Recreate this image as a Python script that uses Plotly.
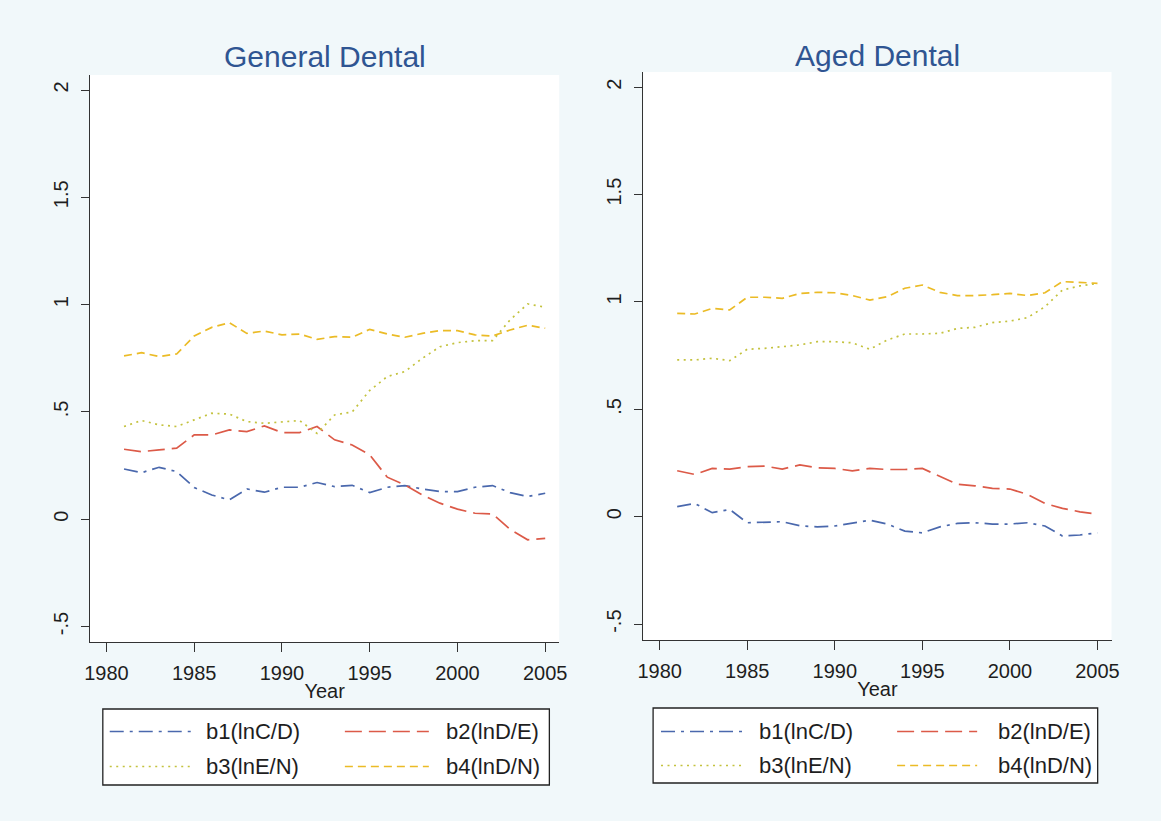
import plotly.graph_objects as go

W, H = 1161, 821

# ---------------- data ----------------
years = list(range(1981, 2006))
series_names = ["b1(lnC/D)", "b2(lnD/E)", "b3(lnE/N)", "b4(lnD/N)"]
panel_titles = ["General Dental", "Aged Dental"]
x_tickvals = [1980, 1985, 1990, 1995, 2000, 2005]
y_tickvals = [-0.5, 0, 0.5, 1, 1.5, 2]
y_ticktext = ["-.5", "0", ".5", "1", "1.5", "2"]

gen_b1 = [0.234, 0.217, 0.242, 0.222, 0.148, 0.113, 0.090, 0.141, 0.126, 0.149, 0.149, 0.171, 0.152,
          0.158, 0.124, 0.149, 0.157, 0.141, 0.129, 0.129, 0.149, 0.157, 0.124, 0.106, 0.121]
gen_b2 = [0.326, 0.315, 0.323, 0.331, 0.393, 0.393, 0.416, 0.408, 0.435, 0.404, 0.404, 0.432, 0.370,
          0.346, 0.300, 0.196, 0.160, 0.113, 0.075, 0.047, 0.028, 0.025, -0.047, -0.096, -0.089]
gen_b3 = [0.432, 0.460, 0.440, 0.432, 0.463, 0.494, 0.490, 0.455, 0.447, 0.455, 0.460, 0.400, 0.486,
          0.500, 0.600, 0.665, 0.688, 0.750, 0.804, 0.823, 0.832, 0.832, 0.929, 1.003, 0.988]
gen_b4 = [0.761, 0.776, 0.758, 0.770, 0.854, 0.894, 0.916, 0.866, 0.877, 0.859, 0.863, 0.838, 0.851,
          0.848, 0.885, 0.863, 0.848, 0.866, 0.879, 0.879, 0.859, 0.854, 0.882, 0.904, 0.890]

aged_b1 = [0.047, 0.062, 0.019, 0.034, -0.028, -0.026, -0.023, -0.042, -0.047, -0.043, -0.031, -0.016, -0.034,
           -0.067, -0.075, -0.047, -0.031, -0.028, -0.034, -0.034, -0.028, -0.043, -0.090, -0.085, -0.075]
aged_b2 = [0.214, 0.197, 0.225, 0.222, 0.233, 0.236, 0.222, 0.241, 0.228, 0.225, 0.214, 0.225, 0.220,
           0.220, 0.225, 0.189, 0.151, 0.144, 0.132, 0.129, 0.104, 0.062, 0.039, 0.023, 0.012]
aged_b3 = [0.730, 0.730, 0.738, 0.727, 0.780, 0.784, 0.792, 0.800, 0.815, 0.815, 0.810, 0.780, 0.823,
           0.851, 0.851, 0.854, 0.877, 0.882, 0.904, 0.911, 0.927, 0.978, 1.056, 1.075, 1.087]
aged_b4 = [0.947, 0.944, 0.970, 0.963, 1.022, 1.022, 1.017, 1.040, 1.045, 1.043, 1.030, 1.009, 1.025,
           1.064, 1.079, 1.045, 1.030, 1.030, 1.034, 1.040, 1.030, 1.043, 1.095, 1.092, 1.087]

# ---------------- styles ----------------
colors = ["#4a68ad", "#dc5a48", "#c4c23e", "#ebbb26"]
dashes = ["14px,6px,3px,6px", "17px,7px", "2px,4.5px", "8px,5px"]
LW = 1.7
FONT = "Arial, Liberation Sans, Helvetica, sans-serif"
TXT = "#1e1e1e"
AX = "#333333"


def px(x):
    return x / W


def py(y):
    return 1 - y / H


fig = go.Figure()

panels = [
    dict(data=[gen_b1, gen_b2, gen_b3, gen_b4], xa="x", ya="y"),
    dict(data=[aged_b1, aged_b2, aged_b3, aged_b4], xa="x2", ya="y2"),
]
for p in panels:
    for name, vals, c, d in zip(series_names, p["data"], colors, dashes):
        fig.add_trace(go.Scatter(
            x=years, y=vals, mode="lines", name=name, showlegend=False,
            line=dict(color=c, width=LW, dash=d),
            xaxis=p["xa"], yaxis=p["ya"]))

# panel geometry in pixels: (left, right, top, bottom)
geom = [(85, 560, 75, 642), (645, 1119, 72, 640)]
yranges = [[-0.572, 2.07], [-0.574, 2.071]]

common_x = dict(
    range=[1979.06, 2005.8], tickvals=x_tickvals, ticks="outside", ticklen=9, tickwidth=1.2,
    tickcolor=AX, showline=True, linecolor=AX, linewidth=1.2, showgrid=False, zeroline=False,
    tickfont=dict(family=FONT, size=20, color=TXT), ticklabelstandoff=4,
    title=dict(text="Year", font=dict(family=FONT, size=20, color=TXT), standoff=0),
)
common_y = dict(
    tickvals=y_tickvals, ticktext=y_ticktext, ticks="outside", ticklen=8, tickwidth=1.2,
    tickcolor=AX, showline=True, linecolor=AX, linewidth=1.2, showgrid=False, zeroline=False,
    tickangle=-90, tickfont=dict(family=FONT, size=20, color=TXT), ticklabelstandoff=5,
)

fig.update_layout(
    xaxis=dict(domain=[px(geom[0][0]), px(geom[0][1])], anchor="y", **common_x),
    yaxis=dict(domain=[py(geom[0][3]), py(geom[0][2])], anchor="x", range=yranges[0], **common_y),
    xaxis2=dict(domain=[px(geom[1][0]), px(geom[1][1])], anchor="y2", **common_x),
    yaxis2=dict(domain=[py(geom[1][3]), py(geom[1][2])], anchor="x2", range=yranges[1], **common_y),
)

# titles
title_pos = [(322.5, 57), (882, 55)]
for t, (tx, ty) in zip(panel_titles, title_pos):
    fig.add_annotation(x=px(tx), y=py(ty), xref="paper", yref="paper", text=t, showarrow=False,
                       xanchor="center", yanchor="middle",
                       font=dict(family=FONT, size=30, color="#2f5592"))

# legends (box + samples + labels)
legends = [
    dict(box=(98, 550, 709, 785), rows=(731.5, 766.5),
         cols=[(105, 190, 200), (343, 428, 443)]),
    dict(box=(655, 1105, 708, 783), rows=(731.5, 765.5),
         cols=[(663, 747, 760), (902, 983, 1002)]),
]
order = [(0, 0, 0), (1, 0, 1), (2, 1, 0), (3, 1, 1)]  # series idx, row, col
for lg in legends:
    x0, x1, y0, y1 = lg["box"]
    fig.add_shape(type="rect", xref="paper", yref="paper", x0=px(x0), x1=px(x1), y0=py(y1), y1=py(y0),
                  fillcolor="white", line=dict(color="#222222", width=1.3), layer="below")
    for si, r, c in order:
        sx0, sx1, lx = lg["cols"][c]
        yy = lg["rows"][r]
        fig.add_shape(type="line", xref="paper", yref="paper", x0=px(sx0), x1=px(sx1), y0=py(yy), y1=py(yy),
                      line=dict(color=colors[si], width=LW, dash=dashes[si]))
        fig.add_annotation(x=px(lx), y=py(yy), xref="paper", yref="paper", text=series_names[si],
                           showarrow=False, xanchor="left", yanchor="middle",
                           font=dict(family=FONT, size=22, color=TXT))

fig.update_layout(
    width=W, height=H, autosize=False,
    margin=dict(l=0, r=0, t=0, b=0),
    paper_bgcolor="#f1f8fa", plot_bgcolor="white",
    showlegend=False,
)

fig.write_html("out.html")
